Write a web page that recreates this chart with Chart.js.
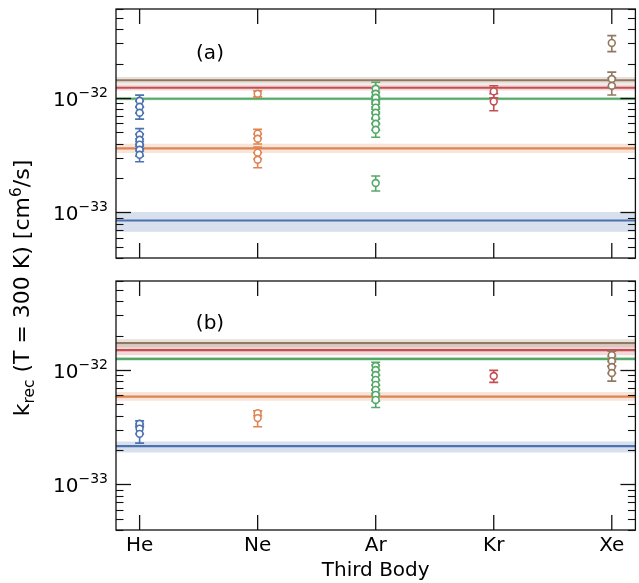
<!DOCTYPE html>
<html><head><meta charset="utf-8">
<script src="https://cdn.jsdelivr.net/npm/chart.js@4.4.1/dist/chart.umd.min.js"></script>
<style>
html,body{margin:0;padding:0;background:#fff;overflow:hidden;}
#wrap{position:relative;width:639px;height:583px;overflow:hidden;}
canvas{position:absolute;left:0;top:0;}
</style></head><body>
<div id="wrap"><canvas id="ca" width="641" height="583"></canvas><canvas id="cb" width="641" height="583"></canvas></div>
<script>
const categories = ['He','Ne','Ar','Kr','Xe'];
const colors = ['#4C72B0','#DD8452','#55A868','#C44E52','#937860'];
const yTickExponents = [-32, -33];
const yMin = 4e-34, yMax = 6e-32;

// Panel (a): measured points per third body
const aHe = [9.47e-33, 8.39e-33, 7.44e-33, 4.78e-33, 4.32e-33, 3.91e-33, 3.53e-33, 3.19e-33];
const aHeErr = [0.12, 0.12, 0.12, 0.13, 0.12, 0.12, 0.12, 0.13];
const aNe = [1.09e-32, 4.88e-33, 4.41e-33, 3.33e-33, 2.89e-33];
const aNeErr = [0.06, 0.09, 0.10, 0.12, 0.15];
const aAr = [1.205e-32, 1.09e-32, 1.006e-32, 9.1e-33, 8.23e-33, 7.44e-33, 6.73e-33, 5.96e-33, 5.28e-33, 1.81e-33];
const aArErr = [0.14, 0.12, 0.12, 0.12, 0.12, 0.12, 0.12, 0.12, 0.14, 0.15];
const aKr = [1.143e-32, 9.34e-33];
const aKrErr = [0.12, 0.17];
const aXe = [3.03e-32, 1.466e-32, 1.28e-32];
const aXeErr = [0.16, 0.15, 0.17];
// Panel (a): fitted values (centre, lower, upper) per third body
const aFit = [8.51e-34, 3.63e-33, 9.86e-33, 1.23e-32, 1.43e-32];
const aFitLo = [6.8e-34, 3.31e-33, 9.53e-33, 1.164e-32, 1.33e-32];
const aFitHi = [1.01e-33, 3.98e-33, 1.02e-32, 1.315e-32, 1.53e-32];

// Panel (b)
const bHe = [3.39e-33, 3.07e-33, 2.77e-33];
const bHeErr = [0.06, 0.10, 0.17];
const bNe = [4.2e-33, 3.8e-33];
const bNeErr = [0.05, 0.16];
const bAr = [1.083e-32, 1.0e-32, 9.05e-33, 8.19e-33, 7.41e-33, 6.7e-33, 6.06e-33, 5.48e-33];
const bArErr = [0.08, 0.10, 0.10, 0.10, 0.10, 0.10, 0.12, 0.14];
const bKr = [8.87e-33];
const bKrErr = [0.12];
const bXe = [1.35e-32, 1.197e-32, 1.062e-32, 9.42e-33];
const bXeErr = [0.08, 0.10, 0.12, 0.15];
const bFit = [2.16e-33, 5.86e-33, 1.25e-32, 1.49e-32, 1.72e-32];
const bFitLo = [1.9e-33, 5.4e-33, 1.2e-32, 1.35e-32, 1.585e-32];
const bFitHi = [2.37e-33, 6.44e-33, 1.30e-32, 1.65e-32, 1.86e-32];

const FONT = "'DejaVu Sans', sans-serif";
const FS = 20, FSS = 14, FT = 22, FTS = 15.4;
const X0 = -0.2, X1 = 4.2;

function rgba(hex, a){const n=parseInt(hex.slice(1),16);return `rgba(${n>>16},${(n>>8)&255},${n&255},${a})`;}

function buildDatasets(fit, lo, hi, pts, errs){
  const ds = [];
  categories.forEach((c,i)=>{
    const col = colors[i];
    ds.push({data:[{x:X0,y:lo[i]},{x:X1,y:lo[i]}], showLine:true, borderWidth:0, pointRadius:0, fill:false, order:40-i*2});
    ds.push({data:[{x:X0,y:hi[i]},{x:X1,y:hi[i]}], showLine:true, borderWidth:0, pointRadius:0, fill:'-1', backgroundColor:rgba(col,0.22), order:40-i*2});
    ds.push({data:[{x:X0,y:fit[i]},{x:X1,y:fit[i]}], showLine:true, borderColor:col, borderWidth:2.2, pointRadius:0, fill:false, order:39-i*2});
  });
  categories.forEach((c,i)=>{
    const col = colors[i];
    ds.push({data:pts[i].map(v=>({x:i,y:v})), errFrac:errs[i], showLine:false, pointStyle:'circle', pointRadius:3.4,
      pointBorderWidth:1.6, borderColor:col, pointBorderColor:col, pointBackgroundColor:'#fff', backgroundColor:'#fff', order:10-i});
  });
  return ds;
}

const errPlugin = {
  id:'errbars',
  beforeDatasetDraw(chart,args){
    const ds = chart.data.datasets[args.index];
    if(!ds.errFrac) return;
    const ctx=chart.ctx, xs=chart.scales.x, ys=chart.scales.y;
    ctx.save(); ctx.strokeStyle=ds.borderColor; ctx.lineWidth=1.6;
    ds.data.forEach((p,i)=>{
      const e=ds.errFrac[i], px=xs.getPixelForValue(p.x);
      const y1=ys.getPixelForValue(p.y*(1+e)), y2=ys.getPixelForValue(p.y*(1-e));
      ctx.beginPath();
      ctx.moveTo(px,y1);ctx.lineTo(px,y2);
      ctx.moveTo(px-4.5,y1);ctx.lineTo(px+4.5,y1);
      ctx.moveTo(px-4.5,y2);ctx.lineTo(px+4.5,y2);
      ctx.stroke();
    });
    ctx.restore();
  }
};

const framePlugin = {
  id:'frame',
  afterDraw(chart,args,opts){
    const ctx=chart.ctx, a=chart.chartArea, xs=chart.scales.x, ys=chart.scales.y;
    ctx.save();
    ctx.strokeStyle='#111'; ctx.lineWidth=1.3;
    ctx.strokeRect(a.left,a.top,a.right-a.left,a.bottom-a.top);
    const line=(x1,y1,x2,y2)=>{ctx.beginPath();ctx.moveTo(x1,y1);ctx.lineTo(x2,y2);ctx.stroke();};
    categories.forEach((c,i)=>{const x=xs.getPixelForValue(i); line(x,a.bottom,x,a.bottom-15); line(x,a.top,x,a.top+15);});
    for(let e=-35;e<=-31;e++){for(let k=1;k<=9;k++){
      const v=k*Math.pow(10,e); if(v<yMin*0.999||v>yMax*1.001) continue;
      const y=Math.round(ys.getPixelForValue(v))+0.5; const L=k===1?15:7.5;
      ctx.lineWidth = k===1?1.3:1.1;
      line(a.left,y,a.left+L,y); line(a.right,y,a.right-L,y);
    }}
    // y tick labels
    ctx.fillStyle='#000'; ctx.textBaseline='alphabetic';
    yTickExponents.forEach(e=>{
      const y=ys.getPixelForValue(Math.pow(10,e));
      const sup='\u2212'+String(-e);
      ctx.font=FSS+'px '+FONT; const w2=ctx.measureText(sup).width;
      ctx.font=FS+'px '+FONT; const w1=ctx.measureText('10').width;
      const xr=a.left-8;
      ctx.textAlign='left';
      ctx.fillText('10',xr-w1-w2,y+7.5);
      ctx.font=FSS+'px '+FONT;
      ctx.fillText(sup,xr-w2,y-1);
    });
    // panel label
    ctx.font=FS+'px '+FONT; ctx.textAlign='center'; ctx.textBaseline='middle';
    ctx.fillText(opts.label, opts.lx, opts.ly);
    if(opts.ytitle){
      ctx.save();
      ctx.translate(29, 288); ctx.rotate(-Math.PI/2);
      const parts=[['k',FT,0],['rec',FTS,5],[' (T = 300 K) [cm',FT,0],['6',FTS,-8.5],['/s]',FT,0]];
      let tw=0; parts.forEach(p=>{ctx.font=p[1]+'px '+FONT; tw+=ctx.measureText(p[0]).width;});
      let x=-tw/2; ctx.textAlign='left'; ctx.textBaseline='alphabetic';
      parts.forEach(p=>{ctx.font=p[1]+'px '+FONT; ctx.fillText(p[0],x,p[2]); x+=ctx.measureText(p[0]).width;});
      ctx.restore();
    }
    ctx.restore();
  }
};

function makeChart(id, datasets, padding, showX, plugOpts){
  return new Chart(document.getElementById(id), {
    type:'scatter',
    data:{datasets},
    options:{
      responsive:false, animation:false, devicePixelRatio:1,
      layout:{padding},
      plugins:{legend:{display:false}, tooltip:{enabled:false}, frame:plugOpts},
      scales:{
        x:{type:'linear', min:X0, max:X1, grid:{display:false, drawTicks:false}, border:{display:false},
          afterBuildTicks:s=>{s.ticks=categories.map((c,i)=>({value:i}));},
          afterFit:s=>{s.height=showX?53:0;},
          ticks:{display:showX, autoSkip:false, maxRotation:0, padding:4, color:'#000',
            font:{family:FONT,size:FS}, callback:v=>categories[v]},
          title:{display:showX, text:'Third Body', color:'#000', font:{family:FONT,size:FS}, padding:{top:0,bottom:0}}
        },
        y:{type:'logarithmic', min:yMin, max:yMax, grid:{display:false}, border:{display:false},
          ticks:{display:false}, afterFit:s=>{s.width=0;}}
      }
    },
    plugins:[errPlugin, framePlugin]
  });
}

makeChart('ca', buildDatasets(aFit,aFitLo,aFitHi,[aHe,aNe,aAr,aKr,aXe],[aHeErr,aNeErr,aArErr,aKrErr,aXeErr]),
  {left:116,right:0.5,top:9,bottom:325}, false, {label:'(a)', lx:210, ly:54, ytitle:false});
makeChart('cb', buildDatasets(bFit,bFitLo,bFitHi,[bHe,bNe,bAr,bKr,bXe],[bHeErr,bNeErr,bArErr,bKrErr,bXeErr]),
  {left:116,right:0.5,top:281,bottom:0}, true, {label:'(b)', lx:210, ly:324, ytitle:true});
</script>
</body></html>
